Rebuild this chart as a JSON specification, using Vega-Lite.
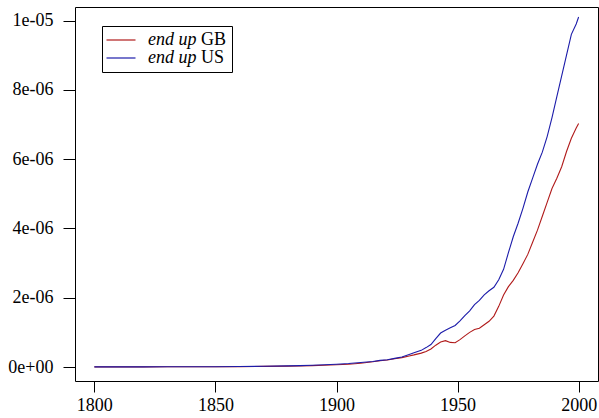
{
  "$schema": "https://vega.github.io/schema/vega-lite/v6.json",
  "width": 523,
  "height": 374,
  "autosize": {"type": "none"},
  "padding": {"left": 75, "top": 7, "right": 1, "bottom": 37},
  "config": {
    "font": "Liberation Serif",
    "view": {"stroke": "black", "strokeWidth": 1},
    "axis": {"labelFontSize": 18, "labelColor": "black", "tickColor": "black", "tickWidth": 1, "domain": false, "grid": false, "title": null, "labelFont": "Liberation Serif"}
  },
  "datasets": {
    "ngram": [
      {"year": 1800, "country": "GB", "value": 5e-9}, {"year": 1800, "country": "US", "value": 5e-9},
      {"year": 1810, "country": "GB", "value": 4e-9}, {"year": 1810, "country": "US", "value": 4e-9},
      {"year": 1820, "country": "GB", "value": 5e-9}, {"year": 1820, "country": "US", "value": 5e-9},
      {"year": 1830, "country": "GB", "value": 6e-9}, {"year": 1830, "country": "US", "value": 6e-9},
      {"year": 1840, "country": "GB", "value": 7e-9}, {"year": 1840, "country": "US", "value": 7e-9},
      {"year": 1850, "country": "GB", "value": 8e-9}, {"year": 1850, "country": "US", "value": 8e-9},
      {"year": 1860, "country": "GB", "value": 1.2e-8}, {"year": 1860, "country": "US", "value": 1.3e-8},
      {"year": 1870, "country": "GB", "value": 1.8e-8}, {"year": 1870, "country": "US", "value": 2.2e-8},
      {"year": 1880, "country": "GB", "value": 2.5e-8}, {"year": 1880, "country": "US", "value": 3.2e-8},
      {"year": 1885, "country": "GB", "value": 3.0e-8}, {"year": 1885, "country": "US", "value": 4.0e-8},
      {"year": 1890, "country": "GB", "value": 4.0e-8}, {"year": 1890, "country": "US", "value": 5.0e-8},
      {"year": 1895, "country": "GB", "value": 5.0e-8}, {"year": 1895, "country": "US", "value": 6.5e-8},
      {"year": 1900, "country": "GB", "value": 6.5e-8}, {"year": 1900, "country": "US", "value": 8.0e-8},
      {"year": 1905, "country": "GB", "value": 8.0e-8}, {"year": 1905, "country": "US", "value": 1.0e-7},
      {"year": 1910, "country": "GB", "value": 1.1e-7}, {"year": 1910, "country": "US", "value": 1.3e-7},
      {"year": 1915, "country": "GB", "value": 1.5e-7}, {"year": 1915, "country": "US", "value": 1.6e-7},
      {"year": 1918, "country": "GB", "value": 1.8e-7}, {"year": 1918, "country": "US", "value": 1.9e-7},
      {"year": 1921, "country": "GB", "value": 2.0e-7}, {"year": 1921, "country": "US", "value": 2.1e-7},
      {"year": 1924, "country": "GB", "value": 2.4e-7}, {"year": 1924, "country": "US", "value": 2.5e-7},
      {"year": 1927, "country": "GB", "value": 2.7e-7}, {"year": 1927, "country": "US", "value": 2.9e-7},
      {"year": 1930, "country": "GB", "value": 3.2e-7}, {"year": 1930, "country": "US", "value": 3.6e-7},
      {"year": 1932, "country": "GB", "value": 3.5e-7}, {"year": 1932, "country": "US", "value": 4.1e-7},
      {"year": 1935, "country": "GB", "value": 4.0e-7}, {"year": 1935, "country": "US", "value": 4.8e-7},
      {"year": 1937, "country": "GB", "value": 4.5e-7}, {"year": 1937, "country": "US", "value": 5.6e-7},
      {"year": 1939, "country": "GB", "value": 5.2e-7}, {"year": 1939, "country": "US", "value": 6.5e-7},
      {"year": 1941, "country": "GB", "value": 6.3e-7}, {"year": 1941, "country": "US", "value": 8.2e-7},
      {"year": 1943, "country": "GB", "value": 7.2e-7}, {"year": 1943, "country": "US", "value": 9.8e-7},
      {"year": 1945, "country": "GB", "value": 7.6e-7}, {"year": 1945, "country": "US", "value": 1.06e-6},
      {"year": 1947, "country": "GB", "value": 7.1e-7}, {"year": 1947, "country": "US", "value": 1.13e-6},
      {"year": 1949, "country": "GB", "value": 7.0e-7}, {"year": 1949, "country": "US", "value": 1.2e-6},
      {"year": 1951, "country": "GB", "value": 7.9e-7}, {"year": 1951, "country": "US", "value": 1.33e-6},
      {"year": 1953, "country": "GB", "value": 9.0e-7}, {"year": 1953, "country": "US", "value": 1.48e-6},
      {"year": 1955, "country": "GB", "value": 1.0e-6}, {"year": 1955, "country": "US", "value": 1.62e-6},
      {"year": 1957, "country": "GB", "value": 1.08e-6}, {"year": 1957, "country": "US", "value": 1.8e-6},
      {"year": 1959, "country": "GB", "value": 1.12e-6}, {"year": 1959, "country": "US", "value": 1.92e-6},
      {"year": 1961, "country": "GB", "value": 1.22e-6}, {"year": 1961, "country": "US", "value": 2.08e-6},
      {"year": 1963, "country": "GB", "value": 1.32e-6}, {"year": 1963, "country": "US", "value": 2.2e-6},
      {"year": 1965, "country": "GB", "value": 1.47e-6}, {"year": 1965, "country": "US", "value": 2.3e-6},
      {"year": 1967, "country": "GB", "value": 1.75e-6}, {"year": 1967, "country": "US", "value": 2.52e-6},
      {"year": 1969, "country": "GB", "value": 2.08e-6}, {"year": 1969, "country": "US", "value": 2.82e-6},
      {"year": 1971, "country": "GB", "value": 2.32e-6}, {"year": 1971, "country": "US", "value": 3.3e-6},
      {"year": 1973, "country": "GB", "value": 2.5e-6}, {"year": 1973, "country": "US", "value": 3.76e-6},
      {"year": 1975, "country": "GB", "value": 2.72e-6}, {"year": 1975, "country": "US", "value": 4.15e-6},
      {"year": 1977, "country": "GB", "value": 2.98e-6}, {"year": 1977, "country": "US", "value": 4.58e-6},
      {"year": 1979, "country": "GB", "value": 3.25e-6}, {"year": 1979, "country": "US", "value": 5.05e-6},
      {"year": 1981, "country": "GB", "value": 3.6e-6}, {"year": 1981, "country": "US", "value": 5.45e-6},
      {"year": 1983, "country": "GB", "value": 3.95e-6}, {"year": 1983, "country": "US", "value": 5.85e-6},
      {"year": 1985, "country": "GB", "value": 4.35e-6}, {"year": 1985, "country": "US", "value": 6.2e-6},
      {"year": 1987, "country": "GB", "value": 4.75e-6}, {"year": 1987, "country": "US", "value": 6.65e-6},
      {"year": 1989, "country": "GB", "value": 5.15e-6}, {"year": 1989, "country": "US", "value": 7.2e-6},
      {"year": 1991, "country": "GB", "value": 5.45e-6}, {"year": 1991, "country": "US", "value": 7.8e-6},
      {"year": 1993, "country": "GB", "value": 5.78e-6}, {"year": 1993, "country": "US", "value": 8.4e-6},
      {"year": 1995, "country": "GB", "value": 6.22e-6}, {"year": 1995, "country": "US", "value": 9.0e-6},
      {"year": 1997, "country": "GB", "value": 6.6e-6}, {"year": 1997, "country": "US", "value": 9.6e-6},
      {"year": 1999, "country": "GB", "value": 6.9e-6}, {"year": 1999, "country": "US", "value": 9.9e-6},
      {"year": 2000, "country": "GB", "value": 7.03e-6}, {"year": 2000, "country": "US", "value": 1.01e-5}
    ]
  },
  "data": {"name": "ngram"},
  "encoding": {
    "x": {"field": "year", "type": "quantitative", "scale": {"domain": [1792, 2008], "nice": false, "zero": false},
      "axis": {"values": [1800, 1850, 1900, 1950, 2000], "tickSize": 11, "labelPadding": 4, "format": "d", "labelFlush": false, "labelFont": "Liberation Serif"}},
    "y": {"field": "value", "type": "quantitative", "scale": {"domain": [-4.04e-7, 1.039e-5], "nice": false, "zero": false},
      "axis": {"values": [0, 2e-6, 4e-6, 6e-6, 8e-6, 1e-5], "tickSize": 12, "labelPadding": 10, "labelFont": "Liberation Serif",
        "labelExpr": "datum.value < 1e-9 ? '0e+00' : (datum.value > 9e-6 ? '1e-05' : format(datum.value / 1e-6, 'd') + 'e-06')"}}
  },
  "layer": [
    {
      "mark": {"type": "line", "strokeWidth": 1.1, "interpolate": "linear"},
      "encoding": {
        "color": {"field": "country", "type": "nominal",
          "scale": {"domain": ["GB", "US"], "range": ["#B01A1A", "#1C1CAA"]},
          "legend": {"orient": "none", "legendX": 37, "legendY": 24, "title": null, "padding": 0,
            "symbolType": "M-2.9,0H2.9", "symbolSize": 100, "symbolStrokeWidth": 1.2, "symbolFillColor": "transparent",
            "labelExpr": "'end up'", "labelFont": "Liberation Serif", "labelFontStyle": "italic", "labelFontSize": 18, "labelColor": "black",
            "labelOffset": 18, "rowPadding": 0}}
      }
    },
    {
      "mark": {"type": "point", "opacity": 0},
      "encoding": {
        "shape": {"field": "country", "type": "nominal",
          "scale": {"range": ["circle", "circle"]},
          "legend": {"orient": "none", "legendX": 27, "legendY": 19, "title": null, "padding": 5,
            "strokeColor": "black", "symbolSize": 1, "symbolOpacity": 0,
            "labelFont": "Liberation Serif", "labelFontSize": 18, "labelColor": "black",
            "labelOffset": 76, "rowPadding": 0}}
      }
    }
  ]
}
